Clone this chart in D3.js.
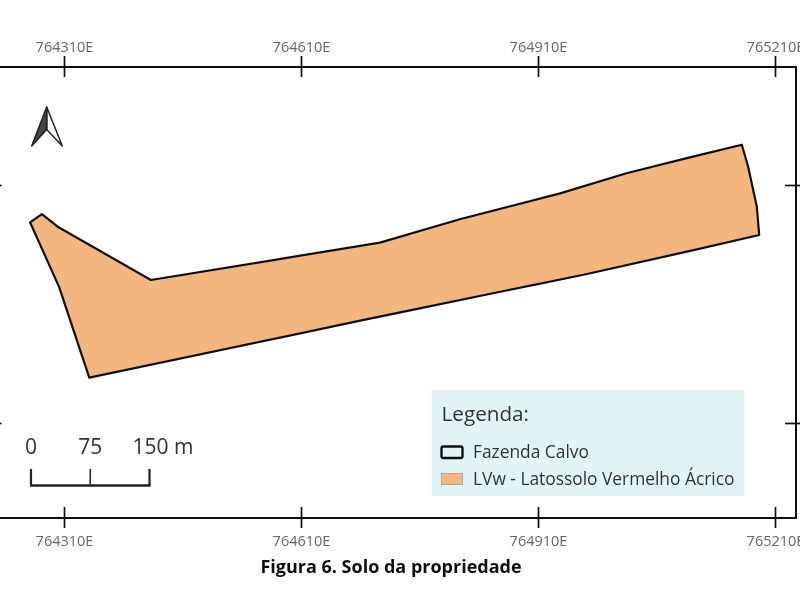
<!DOCTYPE html>
<html>
<head>
<meta charset="utf-8">
<script src="https://cdn.jsdelivr.net/npm/d3@7"></script>
<style>
  html, body { margin: 0; padding: 0; background: #fff; }
  svg { display: block; }
  text { font-family: "Open Sans", sans-serif; }
</style>
</head>
<body>
<svg id="map" width="800" height="600">
  <defs>
    <!-- the reference is a soft scan, so everything gets a light blur -->
    <filter id="soft" filterUnits="userSpaceOnUse" x="0" y="0" width="800" height="600">
      <feGaussianBlur stdDeviation="0.45"></feGaussianBlur>
    </filter>
  </defs>
</svg>
<script>
// Tick values (easting in m, northing in m relative to the lower grid line)
const eastTicks = [764310, 764610, 764910, 765210];
const northTicks = [0, 300];

// Farm outline
const farmEast = [764267, 764282, 764302, 764420, 764710, 764811, 764938, 765022,
  765106, 765168, 765176, 765187, 765190, 765107, 764972, 764853, 764748, 764685,
  764342, 764304];
const farmNorth = [253, 263.4, 247.4, 180.3, 227.3, 256.8, 289.5, 314.8,
  335.7, 350.8, 323.1, 272.7, 237, 218, 187.8, 163.5, 142, 129,
  57.1, 171];

// Scale bar
const scaleStops = [0, 75, 150];
const scaleLabels = ["0", "75", "150 m"];

// Legend
const legendTitle = "Legenda:";
const legendItems = ["Fazenda Calvo", "LVw - Latossolo Vermelho Ácrico"];
const caption = "Figura 6. Solo da propriedade";

const svg = d3.select("#map").append("g").attr("filter", "url(#soft)");

const x = d3.scaleLinear().domain([764310, 765210]).range([64, 775]);
const y = d3.scaleLinear().domain([0, 300]).range([423, 185]);

const soilFill = "#f3b67e";

svg.append("rect")
  .attr("width", 800)
  .attr("height", 600)
  .attr("fill", "#fff");

// Map frame
svg.append("rect")
  .attr("x", -10)
  .attr("y", 67)
  .attr("width", 806)
  .attr("height", 451)
  .attr("fill", "#fff")
  .attr("stroke", "#111")
  .attr("stroke-width", 2);

// Grid ticks, each crossing the frame
function styleAxis(g) {
  g.select(".domain").remove();
  g.selectAll("line").attr("stroke", "#111").attr("stroke-width", 1.7);
  g.selectAll("text")
    .attr("fill", "#666")
    .style("font-size", "14.5px")
    .style("font-family", '"Open Sans", sans-serif');
}

svg.append("g")
  .attr("transform", "translate(0,77)")
  .call(d3.axisTop(x).tickValues(eastTicks).tickSize(21).tickPadding(4).tickFormat((d) => d + "E"))
  .call(styleAxis);

svg.append("g")
  .attr("transform", "translate(0,507)")
  .call(d3.axisBottom(x).tickValues(eastTicks).tickSize(21).tickPadding(7.5).tickFormat((d) => d + "E"))
  .call(styleAxis);

svg.append("g")
  .attr("transform", "translate(785,0)")
  .call(d3.axisRight(y).tickValues(northTicks).tickSize(15).tickFormat(""))
  .call(styleAxis);

svg.append("g")
  .attr("transform", "translate(1.5,0)")
  .call(d3.axisLeft(y).tickValues(northTicks).tickSize(2).tickFormat(""))
  .call(styleAxis);

// Farm polygon
const farmLine = d3.line()
  .x((d) => x(d[0]))
  .y((d) => y(d[1]))
  .curve(d3.curveLinearClosed);

svg.append("path")
  .datum(d3.zip(farmEast, farmNorth))
  .attr("d", farmLine)
  .attr("fill", soilFill)
  .attr("stroke", "#111")
  .attr("stroke-width", 2.2)
  .attr("stroke-linejoin", "round");

// North arrow
const arrow = svg.append("g");
arrow.append("path")
  .attr("d", "M46.7,107 L62.3,146 L46.7,129.5 Z")
  .attr("fill", "#fff")
  .attr("stroke", "#222")
  .attr("stroke-width", 1.5)
  .attr("stroke-linejoin", "round");
arrow.append("path")
  .attr("d", "M46.7,107 L31.7,146 L46.7,129.5 Z")
  .attr("fill", "#444")
  .attr("stroke", "#222")
  .attr("stroke-width", 1.5)
  .attr("stroke-linejoin", "round");

// Scale bar, metres share the easting scale
const barX = (m) => x(764310) - 33 + (x(764310 + m) - x(764310));
const scaleBar = svg.append("g");
scaleBar.append("line")
  .attr("x1", barX(0) - 1)
  .attr("x2", barX(150) + 1)
  .attr("y1", 485.5)
  .attr("y2", 485.5)
  .attr("stroke", "#222")
  .attr("stroke-width", 2.5);
scaleBar.selectAll("line.stop")
  .data(scaleStops)
  .join("line")
  .attr("class", "stop")
  .attr("x1", barX)
  .attr("x2", barX)
  .attr("y1", 469)
  .attr("y2", 486)
  .attr("stroke", "#222")
  .attr("stroke-width", (d, i) => (i === 1 ? 1.5 : 2.2));
scaleBar.selectAll("text")
  .data(scaleStops)
  .join("text")
  .attr("x", (d, i) => barX(d) - [6, 12, 17][i])
  .attr("y", 454)
  .attr("fill", "#333")
  .style("font-size", "21px")
  .text((d, i) => scaleLabels[i]);

// Legend
svg.append("rect")
  .attr("x", 431.5)
  .attr("y", 390)
  .attr("width", 313)
  .attr("height", 106)
  .attr("fill", "#e3f4f7");

svg.append("text")
  .attr("x", 441.5)
  .attr("y", 421)
  .attr("fill", "#333")
  .style("font-size", "20.7px")
  .text(legendTitle);

svg.append("rect")
  .attr("x", 441.5)
  .attr("y", 446.5)
  .attr("width", 21)
  .attr("height", 11.5)
  .attr("rx", 2)
  .attr("fill", "#e3f4f7")
  .attr("stroke", "#111")
  .attr("stroke-width", 2.4);

svg.append("rect")
  .attr("x", 441.5)
  .attr("y", 473.5)
  .attr("width", 21)
  .attr("height", 11)
  .attr("fill", soilFill)
  .attr("stroke", "#a89a8c")
  .attr("stroke-width", 0.8);

svg.selectAll("text.item")
  .data(legendItems)
  .join("text")
  .attr("class", "item")
  .attr("x", 473)
  .attr("y", (d, i) => [457.5, 485][i])
  .attr("fill", "#333")
  .style("font-size", "17.35px")
  .text((d) => d);

// Caption
svg.append("text")
  .attr("x", 391)
  .attr("y", 573)
  .attr("text-anchor", "middle")
  .attr("fill", "#111")
  .style("font-family", '"Open Sans", sans-serif')
  .style("font-weight", "bold")
  .style("font-size", "18px")
  .text(caption);
</script>
</body>
</html>
